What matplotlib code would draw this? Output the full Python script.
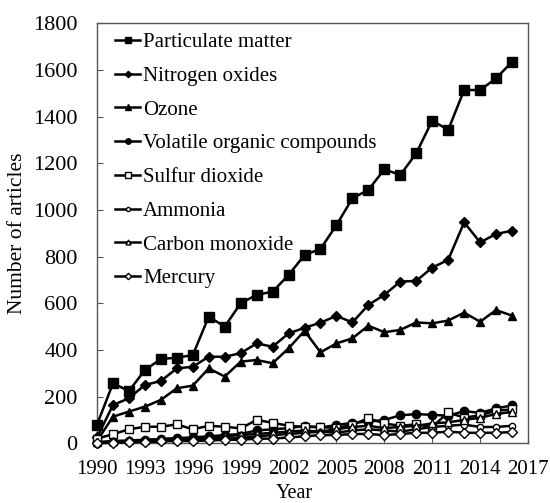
import numpy as np
import matplotlib
matplotlib.use("Agg")
import matplotlib.pyplot as plt

years = list(range(1990, 2017))

pm = [80, 257, 224, 314, 361, 367, 378, 543, 500, 600, 636, 650, 721, 807, 833,
      935, 1050, 1086, 1174, 1150, 1243, 1383, 1343, 1514, 1514, 1564, 1635]
nox = [25, 164, 193, 250, 267, 321, 328, 371, 371, 386, 428, 414, 471, 495, 517,
       546, 518, 593, 636, 693, 696, 753, 786, 947, 861, 897, 911]
ozone = [10, 114, 136, 157, 186, 236, 247, 321, 286, 350, 357, 343, 407, 482, 390,
         428, 450, 504, 476, 486, 518, 514, 526, 560, 521, 571, 547]
voc = [3, 5, 8, 12, 18, 22, 25, 30, 35, 40, 55, 60, 65, 74, 68,
       78, 88, 93, 100, 120, 125, 122, 118, 138, 130, 150, 162]
so2 = [20, 39, 60, 71, 71, 81, 60, 75, 71, 64, 100, 88, 75, 70, 70,
       65, 80, 107, 85, 75, 81, 70, 132, 110, 120, 140, 145]
ammonia = [2, 5, 5, 8, 10, 12, 15, 18, 20, 22, 30, 35, 40, 45, 50,
           45, 55, 60, 55, 50, 60, 70, 75, 80, 70, 70, 75]
co = [5, 10, 12, 15, 18, 20, 22, 25, 30, 35, 40, 45, 50, 55, 50,
      60, 70, 75, 65, 70, 75, 85, 90, 100, 110, 125, 135]
mercury = [0, 2, 5, 5, 8, 10, 10, 12, 15, 15, 20, 20, 25, 30, 35,
           35, 40, 40, 35, 40, 45, 45, 50, 45, 45, 45, 48]

names = ["Particulate matter", "Nitrogen oxides", "Ozone",
         "Volatile organic compounds", "Sulfur dioxide", "Ammonia",
         "Carbon monoxide", "Mercury"]
series = [pm, nox, ozone, voc, so2, ammonia, co, mercury]
markers = ["s", "D", "^", "o", "s", "o", "^", "D"]
filled = [True, True, True, True, False, False, False, False]
msizes = [7, 5, 6, 6, 6, 4.5, 5.5, 5]

plt.rcParams['font.family'] = ['Liberation Serif', 'DejaVu Serif']

fig = plt.figure(figsize=(5.5, 5.03), dpi=100)
ax = fig.add_axes([0.1764, 0.1187, 0.7836, 0.835])

for name, y, m, f, ms in zip(names, series, markers, filled, msizes):
    ax.plot(years, y, color="black", lw=1.8, marker=m, ms=ms,
            markerfacecolor="black" if f else "white",
            markeredgecolor="black", markeredgewidth=1.0,
            label=name, clip_on=False, zorder=3)

ax.set_xlim(1990, 2017)
ax.set_ylim(0, 1800)
ax.set_xticks(range(1990, 2018, 3))
ax.set_yticks(range(0, 1801, 200))
ax.tick_params(direction="in", length=4, color="#555555")
ax.tick_params(axis="x", labelsize=15, pad=12)
ax.tick_params(axis="y", labelsize=16, pad=14)
for s in ax.spines.values():
    s.set_color("#555555")
    s.set_linewidth(1.0)

ax.set_xlabel("Year", fontsize=14.5)
ax.xaxis.set_label_coords(0.457, -0.097)
ax.set_ylabel("Number of articles", fontsize=15.5)
ax.yaxis.set_label_coords(-0.162, 0.5)

leg = ax.legend(loc="upper left", bbox_to_anchor=(0.042, 0.978),
                frameon=False, fontsize=15,
                handlelength=1.2, handletextpad=0.15, labelspacing=0.68,
                markerscale=0.65, borderaxespad=0, borderpad=0)

fig.savefig("out.png", dpi=100)
